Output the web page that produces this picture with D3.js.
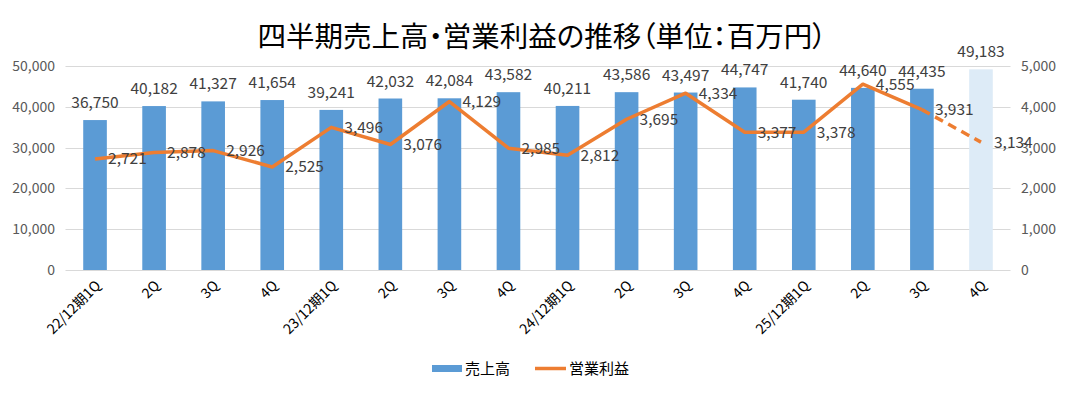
<!DOCTYPE html>
<html>
<head>
<meta charset="utf-8">
<script src="https://cdn.jsdelivr.net/npm/d3@7"></script>
<style>
body { margin: 0; background: #fff; }
svg text { font-family: "Noto Sans CJK JP", "Noto Sans", sans-serif; }
.title { font-feature-settings: "palt"; }
</style>
</head>
<body>
<div id="chart"></div>
<script>
var categories = ["22/12期1Q","2Q","3Q","4Q","23/12期1Q","2Q","3Q","4Q","24/12期1Q","2Q","3Q","4Q","25/12期1Q","2Q","3Q","4Q"];
var sales = [36750, 40182, 41327, 41654, 39241, 42032, 42084, 43582, 40211, 43586, 43497, 44747, 41740, 44640, 44435, 49183];
var profit = [2721, 2878, 2926, 2525, 3496, 3076, 4129, 2985, 2812, 3695, 4334, 3377, 3378, 4555, 3931, 3134];
var leftTicks = [0, 10000, 20000, 30000, 40000, 50000];
var rightTicks = [0, 1000, 2000, 3000, 4000, 5000];

var W = 1065, H = 393;
var barColor = "#5B9BD5", forecastColor = "#DDEBF7", lineColor = "#ED7D31";
var fmt = d3.format(",");

var svg = d3.select("#chart").append("svg")
    .attr("width", W)
    .attr("height", H);

var keys = categories.map(function(d, i){ return i; });

var x = d3.scaleBand()
    .domain(keys)
    .range([65.5, 1010.5])
    .paddingInner(0.6)
    .paddingOuter(0.3);

var yL = d3.scaleLinear().domain([0, 50000]).range([270, 66]);
var yR = d3.scaleLinear().domain([0, 5000]).range([270, 66]);

// title
svg.append("text")
    .attr("class", "title")
    .attr("x", 542)
    .attr("y", 47)
    .attr("text-anchor", "middle")
    .attr("font-size", "28.5px")
    .attr("fill", "#000")
    .text("四半期売上高・営業利益の推移（単位：百万円）");

// grid
svg.append("g").selectAll("line")
    .data(leftTicks)
    .enter().append("line")
    .attr("x1", 65.5).attr("x2", 1010.5)
    .attr("y1", function(d){ return Math.round(yL(d)) + 0.5; })
    .attr("y2", function(d){ return Math.round(yL(d)) + 0.5; })
    .attr("stroke", "#D9D9D9")
    .attr("stroke-width", 1);

// left axis
var axL = svg.append("g")
    .attr("transform", "translate(61,0)")
    .call(d3.axisLeft(yL).tickValues(leftTicks).tickFormat(fmt).tickSize(0).tickPadding(6));
axL.select(".domain").remove();
axL.selectAll("text")
    .attr("font-size", "14px")
    .attr("fill", "#595959")
    .attr("font-family", "\"Noto Sans CJK JP\", sans-serif");

// right axis
var axR = svg.append("g")
    .attr("transform", "translate(1015,0)")
    .call(d3.axisRight(yR).tickValues(rightTicks).tickFormat(fmt).tickSize(0).tickPadding(6));
axR.select(".domain").remove();
axR.selectAll("text")
    .attr("font-size", "14px")
    .attr("fill", "#595959")
    .attr("font-family", "\"Noto Sans CJK JP\", sans-serif");

// bars
svg.append("g").selectAll("rect")
    .data(sales)
    .enter().append("rect")
    .attr("x", function(d, i){ return x(i); })
    .attr("y", function(d){ return yL(d); })
    .attr("width", x.bandwidth())
    .attr("height", function(d){ return yL(0) - yL(d); })
    .attr("fill", function(d, i){ return i === sales.length - 1 ? forecastColor : barColor; });

// bar labels
svg.append("g").selectAll("text")
    .data(sales)
    .enter().append("text")
    .attr("x", function(d, i){ return x(i) + x.bandwidth()/2; })
    .attr("y", function(d){ return yL(d) - 12; })
    .attr("text-anchor", "middle")
    .attr("font-size", "15.5px")
    .attr("fill", "#404040")
    .text(function(d){ return fmt(d); });

// profit line
var cx = function(i){ return x(i) + x.bandwidth()/2; };
var line = d3.line()
    .x(function(d){ return cx(d.i); })
    .y(function(d){ return yR(d.v); });
var pts = profit.map(function(v, i){ return {i: i, v: v}; });
var n = pts.length;

svg.append("path")
    .datum(pts.slice(0, n - 1))
    .attr("d", line)
    .attr("fill", "none")
    .attr("stroke", lineColor)
    .attr("stroke-width", 3.5)
    .attr("stroke-linejoin", "round");

svg.append("path")
    .datum(pts.slice(n - 2))
    .attr("d", line)
    .attr("fill", "none")
    .attr("stroke", lineColor)
    .attr("stroke-width", 3.5)
    .attr("stroke-dasharray", "9,6");

// profit labels
svg.append("g").selectAll("text")
    .data(pts)
    .enter().append("text")
    .attr("x", function(d){ return cx(d.i) + 13; })
    .attr("y", function(d){ return yR(d.v); })
    .attr("dy", "0.35em")
    .attr("font-size", "15.5px")
    .attr("fill", "#404040")
    .text(function(d){ return fmt(d.v); });

// x labels
svg.append("g").selectAll("text")
    .data(categories)
    .enter().append("text")
    .attr("transform", function(d, i){ return "translate(" + (cx(i) + 3) + ",283) rotate(-45)"; })
    .attr("text-anchor", "end")
    .attr("dy", "0.35em")
    .attr("font-size", "14px")
    .attr("fill", "#000")
    .text(function(d){ return d; });

// legend
var lg = svg.append("g");
lg.append("rect")
    .attr("x", 432).attr("y", 365)
    .attr("width", 30).attr("height", 7)
    .attr("fill", barColor);
lg.append("text")
    .attr("x", 465).attr("y", 374)
    .attr("font-size", "15px")
    .attr("fill", "#000")
    .text("売上高");
lg.append("line")
    .attr("x1", 535).attr("x2", 566)
    .attr("y1", 368.5).attr("y2", 368.5)
    .attr("stroke", lineColor)
    .attr("stroke-width", 3.5);
lg.append("text")
    .attr("x", 569).attr("y", 374)
    .attr("font-size", "15px")
    .attr("fill", "#000")
    .text("営業利益");
</script>
</body>
</html>
